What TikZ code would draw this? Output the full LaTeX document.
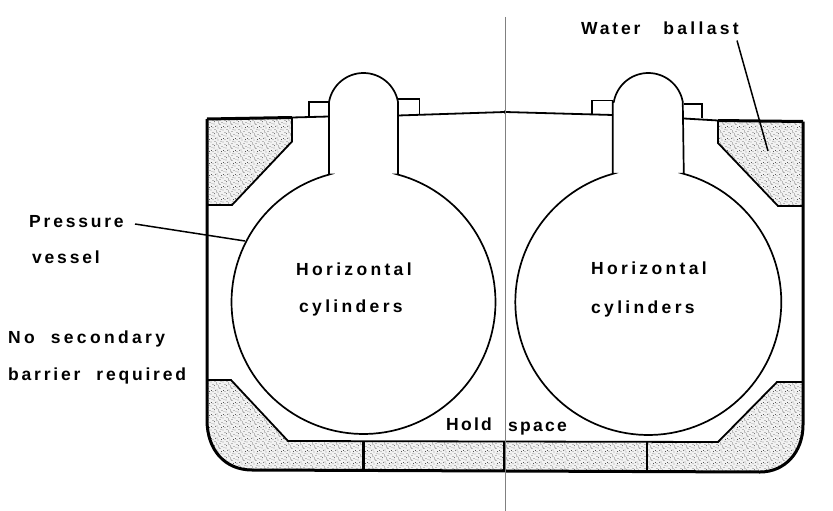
\documentclass[tikz,border=0pt]{standalone}
\usepackage{fontspec}
\usetikzlibrary{patterns}
\setmainfont{Liberation Sans}
\newfontfamily\labfont[LetterSpace=16]{Liberation Sans Bold}
\newfontfamily\labwide[LetterSpace=19]{Liberation Sans Bold}
\newfontfamily\labtight[LetterSpace=13]{Liberation Sans Bold}
\pgfdeclarepatternformonly{stipple}{\pgfqpoint{-1pt}{-1pt}}{\pgfqpoint{13pt}{13pt}}{\pgfqpoint{12pt}{12pt}}{
  \foreach \a/\b in {1/1,4/2.5,7.5/0.5,10/3,2.5/5,6/4.5,9/6.5,0.5/8,4/7.5,7/9,11/9.5,2/11,5.5/11.5,9/11.2,11.5/0.8,3/3.2,8/3.6,5/9.7,10.5/5.2,1/6.2}{
    \pgfpathcircle{\pgfpoint{\a pt}{\b pt}}{0.34pt}
  }
  \pgfusepath{fill}
}
\tikzset{
  x=1pt,y=-1pt,
  hull/.style={line width=3pt,line join=round,black},
  tank/.style={line width=1.8pt,line join=miter,black},
  deck/.style={line width=1.8pt,black},
  tankfill/.style={fill=black!5},
  stip/.style={pattern=stipple,pattern color=black},
  lab/.style={anchor=base west,inner sep=0pt,font=\labfont\fontsize{17.5}{20}\selectfont},
  labw/.style={anchor=base west,inner sep=0pt,font=\labwide\fontsize{17.5}{20}\selectfont},
  labt/.style={anchor=base west,inner sep=0pt,font=\labtight\fontsize{17.5}{20}\selectfont},
  leader/.style={line width=1.5pt,black},
  centre/.style={line width=0.8pt,black!50}
}
\newcommand{\vesselshape}[4]{% cx, cy, R, half-width
  \pgfmathsetmacro{\ang}{asin(#4/#3)}
  \pgfmathsetmacro{\angB}{360-\ang}
  \draw[line width=1.7pt,line join=miter]
    plot[domain=\ang:\angB,samples=120] ({#1+#3*sin(\x)},{#2-#3*cos(\x)})
    -- ({#1-#4},{#2-#3*cos(\ang)}) -- ({#1-#4},102)
    -- plot[domain=-80:80,samples=40] ({#1+35*sin(\x)},{108-35*cos(\x)})
    -- ({#1+#4},{#2-#3*cos(\ang)}) -- cycle;
}
\begin{document}
\begin{tikzpicture}
\useasboundingbox (0,0) rectangle (833,511);
% ballast tanks
\def\pTL{(207,119) -- (292,117.5) -- (292,141.5) -- (232,205) -- (207,205) -- cycle}
\def\pTR{(718,120.5) -- (803,121.5) -- (803,206) -- (778,206) -- (718,143) -- cycle}
\def\pB{(207,380) -- (231,380) -- (288,441) -- (718,442) -- (777,382) -- (803,382) -- (803,425) .. controls (803,452) and (785,472) .. (760,472) -- (252,470) .. controls (225,470) and (207,450) .. (207,420) -- cycle}
\foreach \p in {\pTL,\pTR,\pB}{
  \fill[tankfill] \p;
  \fill[stip] \p;
}
\draw[tank] (292,117.5) -- (292,141.5) -- (232,205) -- (207,205);
\draw[tank] (718,120.5) -- (718,143) -- (778,206) -- (803,206);
\draw[tank] (207,380) -- (231,380) -- (288,441) -- (718,442) -- (777,382) -- (803,382);
% hull
\draw[hull] (207,119) -- (207,420) .. controls (207,450) and (225,470) .. (252,470)
  -- (760,472) .. controls (785,472) and (803,452) .. (803,425) -- (803,121.5);
\draw[hull] (207,119) -- (292,117.5);
\draw[hull] (718,120.5) -- (803,121.5);
% dividers
\draw[line width=2.2pt] (363.5,441.5) -- (363.5,470.5);
\draw[line width=2.2pt] (504.5,441.5) -- (504.5,471);
\draw[line width=1.8pt] (647,442) -- (647,471.5);
% deck
\draw[deck] (292,117.5) -- (329,116.5);
\draw[deck] (398,115.5) -- (505,112) -- (613,115);
\draw[deck] (684,118.5) -- (718,120.5);
\fill (505,112) circle (1.8);
% boxes on deck
\draw[line width=1.4pt] (309,117) -- (309,102) -- (329,102);
\draw[line width=1.4pt] (398,99) -- (419.5,99) -- (419.5,114);
\draw[line width=1.4pt] (592,114) -- (592,100.7) -- (613,100.7);
\draw[line width=1.4pt] (684,104) -- (702,104) -- (702,118);
% pressure vessels
\vesselshape{363.5}{302}{132}{34.5}
\vesselshape{648.3}{302}{133}{35.5}
% centre line
\draw[centre] (505,17) -- (505,511);
% labels
\node[lab] (pressure) at (29,227) {Pressure};
\node[lab] (vessel) at (32,263) {vessel};
\node[labw] (nosec) at (8,343) {No\hspace{16pt}secondary};
\node[lab] (barrier) at (8,380) {barrier\hspace{16pt}required};
\node[lab] (water) at (581,35) {Water\hspace{23pt}\labwide ballast};
\node[labw] (horl) at (296,275) {Horizontal};
\node[labw] (cyll) at (299,312) {cylinders};
\node[labw] (horr) at (591,274) {Horizontal};
\node[labw] (cylr) at (591,313) {cylinders};
\node[labt] (hold) at (446,430) {Hold};
\node[labt] (space) at (508,431) {space};
% leaders
\coordinate (pvstart) at (135,224);
\coordinate (pvend) at (245,241);
\coordinate (wbstart) at (737,40.5);
\coordinate (wbend) at (768,151);
\draw[leader] (pvstart) -- (pvend);
\draw[leader] (wbstart) -- (wbend);
\end{tikzpicture}
\end{document}
